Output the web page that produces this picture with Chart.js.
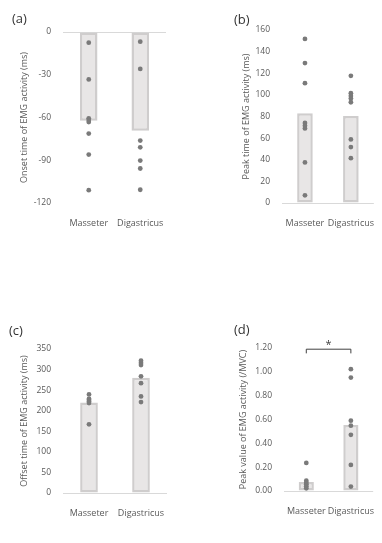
<!DOCTYPE html>
<html>
<head>
<meta charset="utf-8">
<script src="https://cdn.jsdelivr.net/npm/chart.js@4"></script>
<style>
  body { margin: 0; background: #fff; }
  #wrap { position: relative; width: 382px; height: 543px; overflow: hidden; }
  canvas { position: absolute; }
  .tag { position: absolute; font: 13px "Open Sans", sans-serif; color: #333; }
</style>
</head>
<body>
<div id="wrap">
  <canvas id="ca" style="left:0;top:0" width="191" height="272"></canvas>
  <canvas id="cb" style="left:191px;top:0" width="191" height="272"></canvas>
  <canvas id="cc" style="left:0;top:272px" width="191" height="271"></canvas>
  <canvas id="cd" style="left:191px;top:272px" width="191" height="271"></canvas>
  <div class="tag" style="left:12px;top:9px">(a)</div>
  <div class="tag" style="left:234px;top:10px">(b)</div>
  <div class="tag" style="left:9px;top:321px">(c)</div>
  <div class="tag" style="left:234px;top:320px">(d)</div>
</div>
<script>
// muscles on the x axis
const muscles = ["Masseter", "Digastricus"];

// (a) onset time (ms)
const onsetMean = [-62.2, -69.3];
const onsetMasseter = [-7.5, -33.3, -60.6, -61.8, -63.2, -71.3, -86, -111];
const onsetDigastricus = [-6.8, -25.9, -76.2, -80.9, -90.2, -95.8, -110.7];

// (b) peak time (ms)
const peakMean = [83, 80.5];
const peakMasseter = [151.7, 129.4, 110.8, 74, 71.5, 69, 37.5, 7.1];
const peakDigastricus = [117.6, 101.5, 99, 96.6, 93.2, 58.8, 51.7, 41.5];

// (c) offset time (ms)
const offsetMean = [220, 280];
const offsetMasseter = [239.5, 229, 226, 222.5, 218.5, 167];
const offsetDigastricus = [321.6, 316, 311, 283.6, 267, 234.7, 221];

// (d) peak value (/MVC)
const valueMean = [0.075, 0.553];
const valueMasseter = [0.236, 0.086, 0.07, 0.056, 0.04, 0.023];
const valueDigastricus = [1.022, 0.952, 0.59, 0.548, 0.471, 0.219, 0.037];
const sigLevel = 1.19;

const textColor = "#595959";
const font = "'Open Sans', sans-serif";

function points(a, b) {
  return a.map(v => ({ x: muscles[0], y: v }))
    .concat(b.map(v => ({ x: muscles[1], y: v })));
}

// draws the "*" bracket between the two bars
const sigBracket = {
  id: "sigBracket",
  afterDatasetsDraw(chart, args, opts) {
    if (!opts.level) return;
    const { ctx, scales } = chart;
    const x1 = scales.x.getPixelForValue(0);
    const x2 = scales.x.getPixelForValue(1);
    const y = scales.y.getPixelForValue(opts.level);
    const yb = scales.y.getPixelForValue(opts.level - 0.035);
    ctx.save();
    ctx.strokeStyle = "#404040";
    ctx.lineWidth = 1;
    ctx.beginPath();
    ctx.moveTo(x1, yb); ctx.lineTo(x1, y); ctx.lineTo(x2, y); ctx.lineTo(x2, yb);
    ctx.stroke();
    ctx.fillStyle = "#404040";
    ctx.font = "11px " + font;
    ctx.textAlign = "center";
    ctx.textBaseline = "bottom";
    ctx.fillText("*", (x1 + x2) / 2, y + 1);
    ctx.restore();
  }
};

function makeChart(id, cfg) {
  new Chart(document.getElementById(id), {
    type: "bar",
    data: {
      labels: muscles,
      datasets: [
        {
          data: cfg.mean,
          backgroundColor: "#e8e6e6",
          borderColor: "#cfcdcd",
          borderWidth: 2.5,
          borderSkipped: false,
          categoryPercentage: 1,
          barPercentage: 0.34,
          order: 2
        },
        {
          type: "line",
          data: points(cfg.a, cfg.b),
          showLine: false,
          pointRadius: 2.4,
          pointBackgroundColor: "#7a7a7a",
          pointBorderWidth: 0,
          order: 1
        }
      ]
    },
    options: {
      responsive: false,
      animation: false,
      layout: { padding: cfg.pad },
      plugins: {
        legend: { display: false },
        tooltip: { enabled: false },
        sigBracket: { level: cfg.sig }
      },
      scales: {
        x: {
          grid: { display: false },
          border: { display: false },
          ticks: {
            color: textColor, font: { family: font, size: 9 }, padding: 7,
            maxRotation: 0, autoSkip: false
          },
          afterFit: s => { s.height = 28; }
        },
        y: {
          min: cfg.min, max: cfg.max,
          grid: {
            drawTicks: false,
            color: c => c.tick.value === 0 ? "#d9d9d9" : "rgba(0,0,0,0)"
          },
          border: { display: false },
          ticks: {
            stepSize: cfg.step, padding: 12, color: textColor,
            font: { family: font, size: 8.5 },
            callback: cfg.fmt || (v => v)
          },
          title: {
            display: true, text: cfg.title, color: textColor,
            font: { family: font, size: 9 },
            padding: { top: cfg.titleOff, bottom: 0 }
          },
          afterFit: s => { s.width = cfg.yw; }
        }
      }
    },
    plugins: [sigBracket]
  });
}

makeChart("ca", {
  mean: onsetMean, a: onsetMasseter, b: onsetDigastricus,
  min: -120, max: 0, step: 30, yw: 63, titleOff: 19.5,
  title: "Onset time of EMG activity (ms)",
  pad: { top: 32, right: 25, bottom: 41, left: 0 }
});
makeChart("cb", {
  mean: peakMean, a: peakMasseter, b: peakDigastricus,
  min: 0, max: 160, step: 20, yw: 91, titleOff: 50.5,
  title: "Peak time of EMG activity (ms)",
  pad: { top: 30, right: 0, bottom: 41, left: 0 }
});
makeChart("cc", {
  mean: offsetMean, a: offsetMasseter, b: offsetDigastricus,
  min: 0, max: 350, step: 50, yw: 63, titleOff: 19.5,
  title: "Offset time of EMG activity (ms)",
  pad: { top: 77, right: 24, bottom: 22, left: 0 }
});
makeChart("cd", {
  mean: valueMean, a: valueMasseter, b: valueDigastricus,
  min: 0, max: 1.2, step: 0.2, yw: 93, titleOff: 47.5, sig: sigLevel,
  title: "Peak value of EMG activity (/MVC)",
  fmt: v => v.toFixed(2),
  pad: { top: 76, right: 0, bottom: 24, left: 0 }
});
</script>
</body>
</html>
